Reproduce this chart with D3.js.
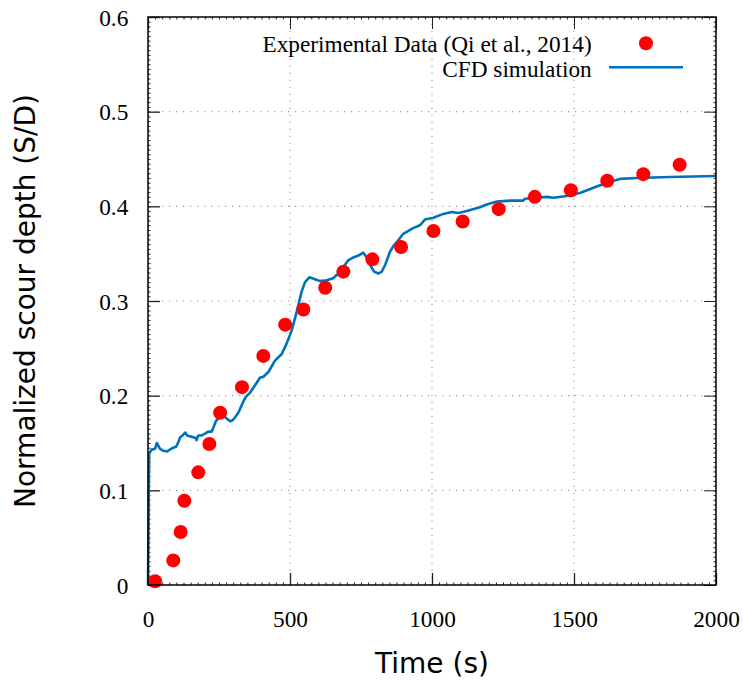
<!DOCTYPE html>
<html><head><meta charset="utf-8">
<script src="https://cdn.jsdelivr.net/npm/d3@7"></script>
<style>body{margin:0;background:#fff} .tk text{font-family:'Liberation Serif','Times New Roman',serif !important;}</style>
</head><body><svg id="c" width="743" height="681"></svg>
<script>
const xTicks = [0, 500, 1000, 1500, 2000];
const yTicks = [0, 0.1, 0.2, 0.3, 0.4, 0.5, 0.6];
const expTime  = [25, 89, 115, 128, 177, 216, 254, 331, 406, 483, 547, 624, 688, 790, 891, 1005, 1108, 1235, 1362, 1489, 1617, 1744, 1872];
const expDepth = [0.004, 0.026, 0.056, 0.089, 0.119, 0.149, 0.182, 0.209, 0.242, 0.275, 0.291, 0.314, 0.331, 0.344, 0.357, 0.374, 0.384, 0.397, 0.410, 0.417, 0.427, 0.434, 0.444];
const cfdTime  = [0, 4, 13, 25, 31, 42, 52, 66, 77, 89, 99, 107, 113, 122, 131, 138, 148, 160, 169, 171, 177, 189, 201, 212, 224, 230, 239, 248, 254, 263, 277, 289, 298, 306, 318, 336, 345, 359, 377, 394, 406, 424, 447, 471, 488, 506, 524, 541, 553, 568, 588, 606, 629, 652, 670, 688, 705, 723, 741, 758, 768, 782, 796, 811, 823, 835, 852, 864, 881, 899, 917, 933, 958, 975, 1005, 1040, 1069, 1093, 1122, 1169, 1193, 1228, 1275, 1321, 1327, 1404, 1427, 1474, 1521, 1580, 1627, 1662, 1721, 1838, 2000];
const cfdDepth = [0, 0.139, 0.143, 0.144, 0.150, 0.144, 0.142, 0.141, 0.143, 0.145, 0.146, 0.151, 0.156, 0.158, 0.161, 0.158, 0.157, 0.156, 0.155, 0.153, 0.158, 0.158, 0.160, 0.162, 0.162, 0.166, 0.173, 0.176, 0.179, 0.180, 0.176, 0.173, 0.174, 0.177, 0.182, 0.194, 0.199, 0.203, 0.211, 0.219, 0.220, 0.225, 0.237, 0.244, 0.255, 0.269, 0.289, 0.310, 0.320, 0.325, 0.323, 0.321, 0.322, 0.324, 0.329, 0.336, 0.343, 0.346, 0.348, 0.351, 0.347, 0.338, 0.331, 0.329, 0.331, 0.338, 0.352, 0.358, 0.364, 0.371, 0.374, 0.377, 0.380, 0.386, 0.388, 0.392, 0.394, 0.393, 0.395, 0.399, 0.402, 0.405, 0.406, 0.406, 0.408, 0.410, 0.409, 0.411, 0.414, 0.421, 0.426, 0.429, 0.430, 0.431, 0.432];
const legendLabels = ["Experimental Data (Qi et al., 2014)", "CFD simulation"];
const xTitle = "Time (s)";
const yTitle = "Normalized scour depth (S/D)";

const L = 148, R = 716, T = 17, B = 585;
const svg = d3.select("#c");
const x = d3.scaleLinear().domain([0, 2000]).range([L, R]);
const y = d3.scaleLinear().domain([0, 0.6]).range([B, T]);
const serif = "'Liberation Serif','Times New Roman',serif";
const sans = "'DejaVu Sans',sans-serif";
const fs = 23.3;

// grid
const grid = svg.append("g").attr("stroke", "#9a9a9a").attr("stroke-width", 1.1).attr("stroke-dasharray", "1.2,5.8");
grid.selectAll(".gx").data(xTicks.slice(1, -1)).join("line")
  .attr("x1", d => x(d)).attr("x2", d => x(d)).attr("y1", B).attr("y2", T);
grid.selectAll(".gy").data(yTicks.slice(1, -1)).join("line")
  .attr("x1", L).attr("x2", R).attr("y1", d => y(d)).attr("y2", d => y(d));

// minor ticks
const minorX = d3.range(0, 2001, 25), minorY = d3.range(0, 0.6001, 0.005);
function styleAxis(g) { g.select(".domain").remove(); g.selectAll("line").attr("stroke", "#222"); }
svg.append("g").attr("transform", `translate(0,${B})`).call(d3.axisBottom(x).tickValues(minorX).tickSize(-2.5).tickFormat("")).call(styleAxis);
svg.append("g").attr("transform", `translate(0,${T})`).call(d3.axisTop(x).tickValues(minorX).tickSize(-2.5).tickFormat("")).call(styleAxis);
svg.append("g").attr("transform", `translate(${L},0)`).call(d3.axisLeft(y).tickValues(minorY).tickSize(-2.5).tickFormat("")).call(styleAxis);
svg.append("g").attr("transform", `translate(${R},0)`).call(d3.axisRight(y).tickValues(minorY).tickSize(-2.5).tickFormat("")).call(styleAxis);

// major ticks
const xb = svg.append("g").attr("class", "tk").attr("transform", `translate(0,${B})`)
  .call(d3.axisBottom(x).tickValues(xTicks).tickSize(-12).tickFormat(d3.format("d"))).call(styleAxis);
xb.attr("font-family", null).attr("font-size", null);
xb.selectAll("line").attr("stroke-width", 1.3);
xb.selectAll("text").attr("y", 42).attr("dy", 0).style("font-family", serif).style("font-size", fs + "px").attr("fill", "#000");
svg.append("g").attr("transform", `translate(0,${T})`)
  .call(d3.axisTop(x).tickValues(xTicks).tickSize(-12).tickFormat("")).call(styleAxis);
const yl = svg.append("g").attr("class", "tk").attr("transform", `translate(${L},0)`)
  .call(d3.axisLeft(y).tickValues(yTicks).tickSize(-12).tickFormat(d => d === 0 ? "0" : d3.format(".1f")(d))).call(styleAxis);
yl.attr("font-family", null).attr("font-size", null);
yl.selectAll("line").attr("stroke-width", 1.3);
yl.selectAll("text").attr("x", -19.7).attr("dy", "0.35em").style("font-family", serif).style("font-size", fs + "px").attr("fill", "#000");
svg.append("g").attr("transform", `translate(${R},0)`)
  .call(d3.axisRight(y).tickValues(yTicks).tickSize(-12).tickFormat("")).call(styleAxis);

// CFD line
const line = d3.line().x((d, i) => x(cfdTime[i])).y(d => y(d));
svg.append("path").datum(cfdDepth).attr("d", line)
  .attr("fill", "none").attr("stroke", "#0072bd").attr("stroke-width", 2.6).attr("stroke-linejoin", "round");

// Experimental points
svg.append("g").selectAll("circle").data(expDepth).join("circle")
  .attr("cx", (d, i) => x(expTime[i])).attr("cy", d => y(d)).attr("r", 7).attr("fill", "#ff0000");

// frame
svg.append("rect").attr("x", L).attr("y", T).attr("width", R - L).attr("height", B - T)
  .attr("fill", "none").attr("stroke", "#000").attr("stroke-width", 1.5);

// legend
const lg = svg.append("g");
lg.append("text").attr("x", 591.7).attr("y", 52.3).attr("text-anchor", "end")
  .style("font-family", serif).style("font-size", fs + "px").text(legendLabels[0]);
lg.append("circle").attr("cx", 646).attr("cy", 43.3).attr("r", 7).attr("fill", "#ff0000");
lg.append("text").attr("x", 591.7).attr("y", 76.7).attr("text-anchor", "end")
  .style("font-family", serif).style("font-size", fs + "px").text(legendLabels[1]);
lg.append("line").attr("x1", 609).attr("x2", 683).attr("y1", 67.3).attr("y2", 67.3)
  .attr("stroke", "#0072bd").attr("stroke-width", 2.6);

// axis titles
svg.append("text").attr("x", 432).attr("y", 673).attr("text-anchor", "middle")
  .style("font-family", sans).style("font-size", "28px").text(xTitle);
svg.append("text").attr("transform", `translate(35,${(T + B) / 2}) rotate(-90)`).attr("text-anchor", "middle")
  .style("font-family", sans).style("font-size", "28px").text(yTitle);
</script></body></html>
